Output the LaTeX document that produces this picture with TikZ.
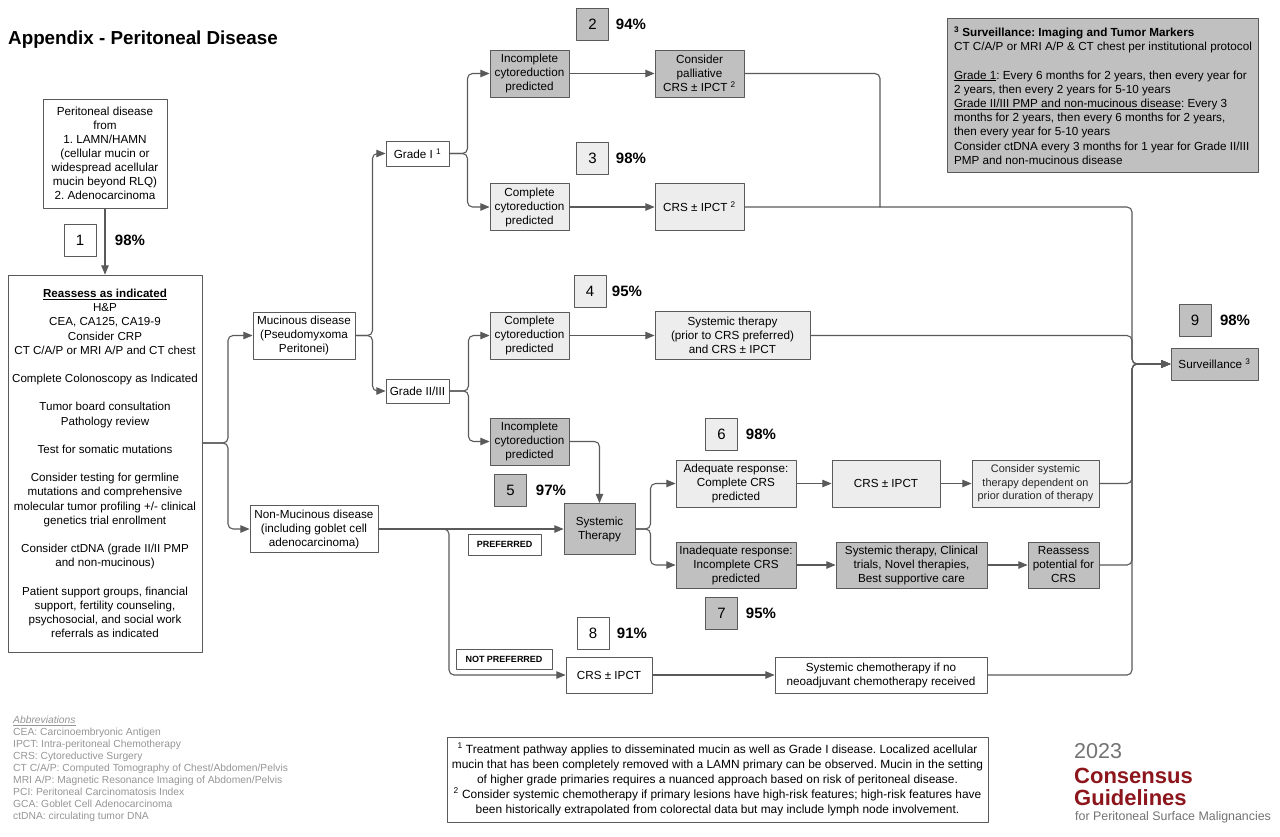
\documentclass[tikz,border=0pt]{standalone}
\usepackage{fontspec}
\setmainfont{Liberation Sans}
\usetikzlibrary{arrows}
\definecolor{boxdark}{RGB}{192,192,192}
\definecolor{boxlight}{RGB}{237,237,237}
\definecolor{edgegray}{RGB}{90,90,90}
\definecolor{abbrgray}{RGB}{150,150,150}
\definecolor{logored}{RGB}{140,22,28}
\definecolor{logogray}{RGB}{115,115,115}
\newcommand{\boxfont}{\fontsize{11.7}{14}\selectfont}
\newcommand{\fnmark}[1]{\textsuperscript{#1}}
\frenchspacing
\begin{document}
\begin{tikzpicture}[x=1pt,y=-1pt,line cap=round,line join=round,>=triangle 45,
  every node/.style={inner sep=2pt},
  box/.style={draw=edgegray,line width=1pt,align=center,font=\boxfont,text=black},
  plainbox/.style={box,fill=white},
  lightbox/.style={box,fill=boxlight},
  darkbox/.style={box,fill=boxdark},
  sz/.style 2 args={minimum width=#1pt,minimum height=#2pt},
  numbox/.style={draw=edgegray,line width=1pt,minimum width=32pt,minimum height=32pt,font=\fontsize{15}{18}\selectfont},
  pct/.style={font=\bfseries\fontsize{15}{18}\selectfont},
  tag/.style={draw=edgegray,line width=0.8pt,fill=white,font=\bfseries\fontsize{9}{11}\selectfont},
  link/.style={draw=edgegray,line width=1.1pt,rounded corners=5pt}]
    \path[use as bounding box,fill=white] (0,0) rectangle (1280,836);
    % title
    \node[anchor=west,font=\bfseries\fontsize{18.8}{22}\selectfont] (title) at (6,40) {Appendix - Peritoneal Disease};
    % left column
    \node[plainbox,sz={124}{109}] (pd) at (105,153.5) {Peritoneal disease\\ from\\ 1. LAMN/HAMN\\ (cellular mucin or\\ widespread acellular\\ mucin beyond RLQ)\\ 2. Adenocarcinoma};
    \node[plainbox,sz={194}{377},font=\fontsize{11.6}{14.17}\selectfont] (reass) at (105,463.5) {\underline{\textbf{Reassess as indicated}}\\ H\&P\\ CEA, CA125, CA19-9\\ Consider CRP\\ CT C/A/P or MRI A/P and CT chest\\[14.17pt] Complete Colonoscopy as Indicated\\[14.17pt] Tumor board consultation\\ Pathology review\\[14.17pt] Test for somatic mutations\\[14.17pt] Consider testing for germline\\ mutations and comprehensive\\ molecular tumor profiling +/- clinical\\ genetics trial enrollment\\[14.17pt] Consider ctDNA (grade II/II PMP\\ and non-mucinous)\\[14.17pt] Patient support groups, financial\\ support, fertility counseling,\\ psychosocial, and social work\\ referrals as indicated};
    \node[plainbox,sz={102}{47}] (muc) at (304,335.5) {Mucinous disease\\ (Pseudomyxoma\\ Peritonei)};
    \node[plainbox,sz={128}{47}] (nonmuc) at (314,529) {Non-Mucinous disease\\ (including goblet cell\\ adenocarcinoma)};
    % grades
    \node[plainbox,sz={63}{25}] (g1) at (417.5,153.5) {Grade I \fnmark{1}};
    \node[plainbox,sz={63}{24}] (g23) at (417.5,391) {Grade II/III};
    \node[darkbox,sz={79}{47}] (incA) at (529.5,73.5) {Incomplete\\ cytoreduction\\ predicted};
    \node[darkbox,sz={89}{47}] (pall) at (699.5,73.5) {Consider\\ palliative\\ CRS ± IPCT \fnmark{2}};
    \node[lightbox,sz={79}{47}] (compA) at (529.5,207) {Complete\\ cytoreduction\\ predicted};
    \node[lightbox,sz={89}{47}] (crsA) at (699.5,207) {CRS ± IPCT \fnmark{2}};
    \node[lightbox,sz={79}{47}] (compB) at (529.5,335.5) {Complete\\ cytoreduction\\ predicted};
    \node[lightbox,sz={155}{48}] (systB) at (732.5,335.5) {Systemic therapy\\ (prior to CRS preferred)\\ and CRS ± IPCT};
    \node[darkbox,sz={79}{47}] (incB) at (529.5,441.5) {Incomplete\\ cytoreduction\\ predicted};
    % systemic therapy branch
    \node[darkbox,sz={71}{51}] (systher) at (599.5,529) {Systemic\\ Therapy};
    \node[tag,sz={73}{21}] (pref) at (504.5,544.5) {PREFERRED};
    \node[lightbox,sz={120}{47}] (adeq) at (736,483.5) {Adequate response:\\ Complete CRS\\ predicted};
    \node[darkbox,sz={120}{46}] (inadeq) at (736,565) {Inadequate response:\\ Incomplete CRS\\ predicted};
    \node[lightbox,sz={108}{47}] (crsM) at (886,483.5) {CRS ± IPCT};
    \node[lightbox,sz={127}{47},font=\fontsize{10.9}{13.5}\selectfont,text={black!85}] (consid) at (1035.5,483.5) {Consider systemic\\ therapy dependent on\\ prior duration of therapy};
    \node[darkbox,sz={151}{46}] (systC) at (911.5,565) {Systemic therapy, Clinical\\ trials, Novel therapies,\\ Best supportive care};
    \node[darkbox,sz={71}{46}] (reassP) at (1063.5,565) {Reassess\\ potential for\\ CRS};
    % not preferred branch
    \node[tag,sz={96}{20}] (npref) at (504,659) {NOT PREFERRED};
    \node[plainbox,sz={86}{36}] (crsB) at (609,675) {CRS ± IPCT};
    \node[plainbox,sz={212}{36}] (chemo) at (881,675) {Systemic chemotherapy if no\\ neoadjuvant chemotherapy received};
    % surveillance
    \node[darkbox,sz={87}{32}] (surv) at (1214.5,364) {Surveillance \fnmark{3}};
    \node[box,fill=boxdark,anchor=north west,sz={311}{154},align=left,inner xsep=5pt,inner ysep=6pt,font=\fontsize{11.7}{14.2}\selectfont] (survnote) at (947,18) {\fnmark{\textbf{3}} \textbf{Surveillance: Imaging and Tumor Markers}\\ CT C/A/P or MRI A/P \& CT chest per institutional protocol\\[14.2pt] \underline{Grade 1}: Every 6 months for 2 years, then every year for\\ 2 years, then every 2 years for 5-10 years\\ \underline{Grade II/III PMP and non-mucinous disease}: Every 3\\ months for 2 years, then every 6 months for 2 years,\\ then every year for 5-10 years\\ Consider ctDNA every 3 months for 1 year for Grade II/III\\ PMP and non-mucinous disease};
    % consensus numbers
    \foreach \k/\cx/\cy/\fl/\pc/\px in {1/80/240.5/white/98/130,2/592.5/24/boxdark/94/631,3/592.5/158.5/boxlight/98/631,4/590/291/boxlight/95/627,5/510.5/490.5/boxdark/97/551,6/721.5/434.5/boxlight/98/761,7/721.5/613/boxdark/95/761,8/593/633/white/91/632,9/1195/320/boxdark/98/1235}{
      \node[numbox,fill=\fl] (n\k) at (\cx,\cy) {\k};
      \node[pct] (p\k) at (\px,\cy) {\pc\%};
    }
    % connectors
    \draw[link,->] (pd) -- (reass);
    \coordinate (jL) at (228,443);
    \draw[link,->] (reass.east |- jL) -- (jL) |- (muc.west);
    \draw[link,->] (reass.east |- jL) -- (jL) |- (nonmuc.west);
    \draw[link,->] (muc.east) -- ++(17,0) |- (g1.west);
    \draw[link,->] (muc.east) -- ++(17,0) |- (g23.west);
    \draw[link,->] (g1.east) -- ++(18,0) |- (incA.west);
    \draw[link,->] (g1.east) -- ++(18,0) |- (compA.west);
    \draw[link,->] (g23.east) -- ++(19,0) |- (compB.west);
    \draw[link,->] (g23.east) -- ++(19,0) |- (incB.west);
    \draw[link,->] (incA) -- (pall);
    \draw[link,->] (compA) -- (crsA);
    \draw[link,->] (compB) -- (systB);
    \draw[link,->] (incB.east) -| (systher.north);
    \draw[link,->] (nonmuc) -- (systher);
    \coordinate (jN) at (449,529);
    \draw[link,->] (nonmuc.east) -- (jN) |- (crsB.west);
    \draw[link,->] (systher.east) -- ++(15,0) |- (adeq.west);
    \draw[link,->] (systher.east) -- ++(15,0) |- (inadeq.west);
    \draw[link,->] (adeq) -- (crsM);
    \draw[link,->] (crsM) -- (consid);
    \draw[link,->] (inadeq) -- (systC);
    \draw[link,->] (systC) -- (reassP);
    \draw[link,->] (crsB) -- (chemo);
    \coordinate (jT) at (880,207);
    \coordinate (jR) at (1132,364);
    \draw[link] (pall.east) -| (jT);
    \foreach \src in {crsA,systB,consid,reassP,chemo}
      \draw[link,->] (\src.east) -| (jR) -- (surv.west);
    % footnotes
    \node[plainbox,sz={541}{85},font=\fontsize{11.9}{15}\selectfont] (fnote) at (717.5,779.5) {\fnmark{1} Treatment pathway applies to disseminated mucin as well as Grade I disease. Localized acellular\\ mucin that has been completely removed with a LAMN primary can be observed. Mucin in the setting\\ of higher grade primaries requires a nuanced approach based on risk of peritoneal disease.\\ \fnmark{2} Consider systemic chemotherapy if primary lesions have high-risk features; high-risk features have\\ been historically extrapolated from colorectal data but may include lymph node involvement.};
    \node[anchor=north west,align=left,inner sep=0pt,text=abbrgray,font=\fontsize{10.3}{12}\selectfont] (abbr) at (13,716) {\underline{\textit{Abbreviations}}\\ CEA: Carcinoembryonic Antigen\\ IPCT: Intra-peritoneal Chemotherapy\\ CRS: Cytoreductive Surgery\\ CT C/A/P: Computed Tomography of Chest/Abdomen/Pelvis\\ MRI A/P: Magnetic Resonance Imaging of Abdomen/Pelvis\\ PCI: Peritoneal Carcinomatosis Index\\ GCA: Goblet Cell Adenocarcinoma\\ ctDNA: circulating tumor DNA};
    % logo
    \node[anchor=base west,inner sep=0pt,text=logogray,font=\fontsize{21.5}{24}\selectfont] (yr) at (1074,758) {2023};
    \node[anchor=base west,inner sep=0pt,text=logored,font=\bfseries\fontsize{22}{24}\selectfont] (cons) at (1074,783) {Consensus};
    \node[anchor=base west,inner sep=0pt,text=logored,font=\bfseries\fontsize{22}{24}\selectfont] (guid) at (1074,805) {Guidelines};
    \node[anchor=base west,inner sep=0pt,text=logogray,font=\fontsize{12.4}{14}\selectfont] (forpsm) at (1075,820) {for Peritoneal Surface Malignancies};
  \end{tikzpicture}
\end{document}
